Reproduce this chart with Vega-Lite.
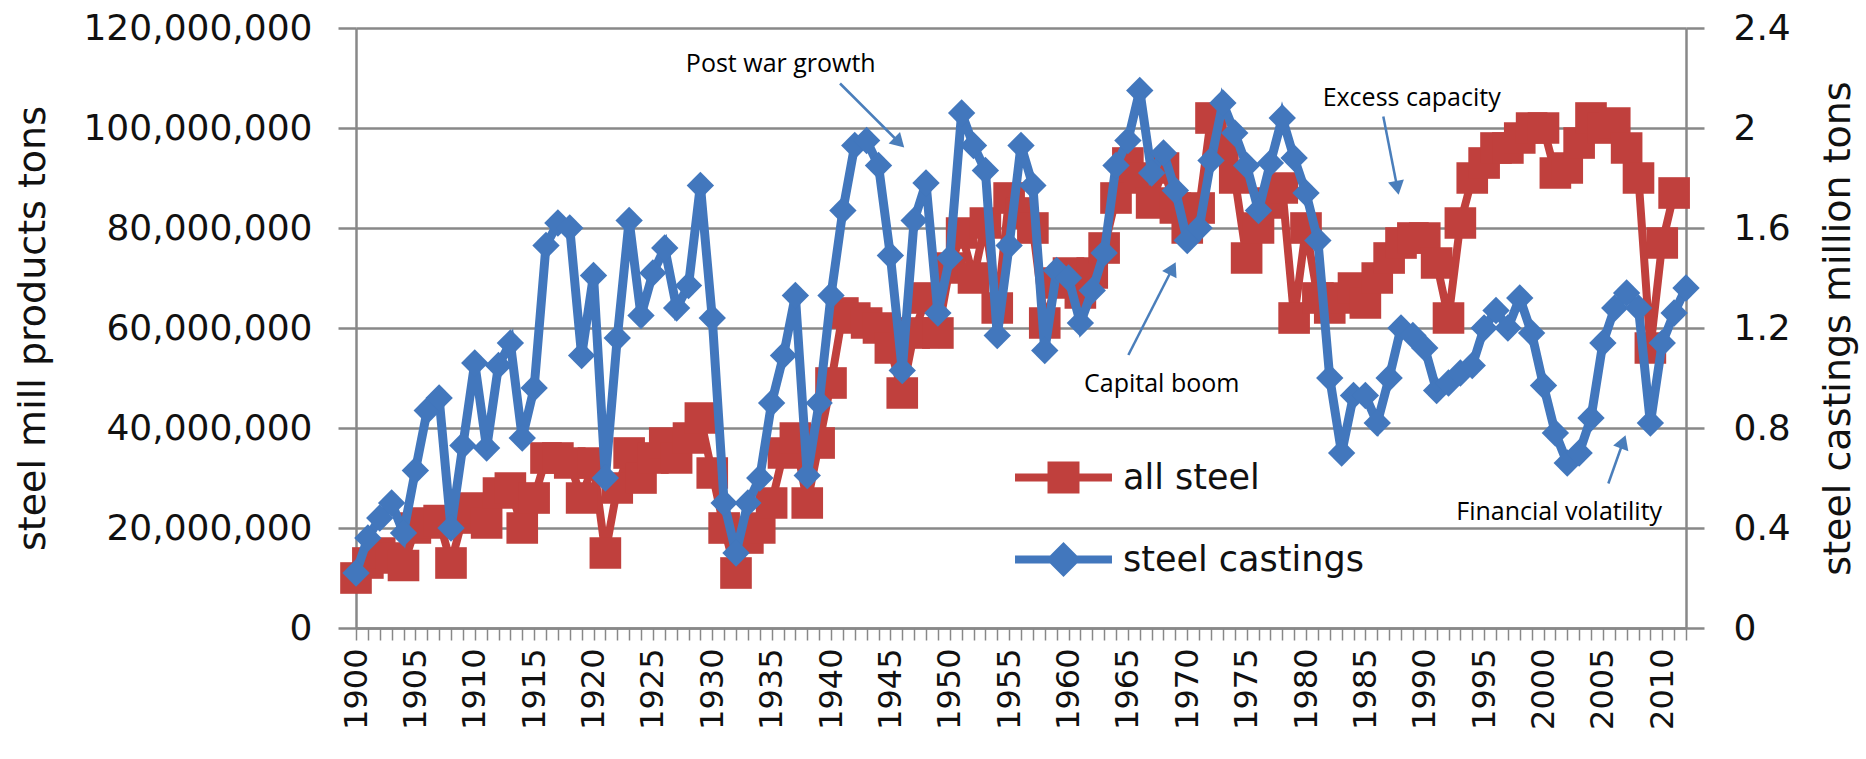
{
  "$schema": "https://vega.github.io/schema/vega-lite/v6.json",
  "width": 1330,
  "height": 600,
  "autosize": {"type": "none"},
  "padding": {"left": 356, "top": 28, "right": 180, "bottom": 131},
  "background": "white",
  "config": {"view": {"stroke": null}, "font": "DejaVu Sans"},
  "datasets": {
    "allsteel": [
      {"year":1900,"tons":10000000},{"year":1901,"tons":13000000},{"year":1902,"tons":15000000},{"year":1903,"tons":14000000},{"year":1904,"tons":12500000},
      {"year":1905,"tons":20000000},{"year":1906,"tons":21000000},{"year":1907,"tons":21500000},{"year":1908,"tons":13000000},{"year":1909,"tons":22000000},
      {"year":1910,"tons":24000000},{"year":1911,"tons":21000000},{"year":1912,"tons":27000000},{"year":1913,"tons":28000000},{"year":1914,"tons":20000000},
      {"year":1915,"tons":26000000},{"year":1916,"tons":34000000},{"year":1917,"tons":34000000},{"year":1918,"tons":33000000},{"year":1919,"tons":26000000},
      {"year":1920,"tons":33000000},{"year":1921,"tons":15000000},{"year":1922,"tons":28000000},{"year":1923,"tons":35000000},{"year":1924,"tons":30000000},
      {"year":1925,"tons":34000000},{"year":1926,"tons":37000000},{"year":1927,"tons":34000000},{"year":1928,"tons":38000000},{"year":1929,"tons":42000000},
      {"year":1930,"tons":31000000},{"year":1931,"tons":20000000},{"year":1932,"tons":11000000},{"year":1933,"tons":18000000},{"year":1934,"tons":20000000},
      {"year":1935,"tons":25000000},{"year":1936,"tons":35000000},{"year":1937,"tons":38000000},{"year":1938,"tons":25000000},{"year":1939,"tons":37000000},
      {"year":1940,"tons":49000000},{"year":1941,"tons":63000000},{"year":1942,"tons":62000000},{"year":1943,"tons":61000000},{"year":1944,"tons":60000000},
      {"year":1945,"tons":56000000},{"year":1946,"tons":47000000},{"year":1947,"tons":59000000},{"year":1948,"tons":66000000},{"year":1949,"tons":59000000},
      {"year":1950,"tons":72000000},{"year":1951,"tons":79000000},{"year":1952,"tons":70000000},{"year":1953,"tons":81000000},{"year":1954,"tons":64000000},
      {"year":1955,"tons":86000000},{"year":1956,"tons":83000000},{"year":1957,"tons":80000000},{"year":1958,"tons":61000000},{"year":1959,"tons":69000000},
      {"year":1960,"tons":71000000},{"year":1961,"tons":67000000},{"year":1962,"tons":71000000},{"year":1963,"tons":76000000},{"year":1964,"tons":86000000},
      {"year":1965,"tons":93000000},{"year":1966,"tons":90000000},{"year":1967,"tons":85000000},{"year":1968,"tons":92000000},{"year":1969,"tons":84000000},
      {"year":1970,"tons":80000000},{"year":1971,"tons":84000000},{"year":1972,"tons":102000000},{"year":1973,"tons":96000000},{"year":1974,"tons":90000000},
      {"year":1975,"tons":74000000},{"year":1976,"tons":80000000},{"year":1977,"tons":85000000},{"year":1978,"tons":88000000},{"year":1979,"tons":62000000},
      {"year":1980,"tons":80000000},{"year":1981,"tons":66000000},{"year":1982,"tons":64000000},{"year":1983,"tons":66000000},{"year":1984,"tons":68000000},
      {"year":1985,"tons":65000000},{"year":1986,"tons":70000000},{"year":1987,"tons":74000000},{"year":1988,"tons":77000000},{"year":1989,"tons":78000000},
      {"year":1990,"tons":78000000},{"year":1991,"tons":73000000},{"year":1992,"tons":62000000},{"year":1993,"tons":81000000},{"year":1994,"tons":90000000},
      {"year":1995,"tons":93000000},{"year":1996,"tons":96000000},{"year":1997,"tons":96000000},{"year":1998,"tons":98000000},{"year":1999,"tons":100000000},
      {"year":2000,"tons":100000000},{"year":2001,"tons":91000000},{"year":2002,"tons":92000000},{"year":2003,"tons":97000000},{"year":2004,"tons":102000000},
      {"year":2005,"tons":100000000},{"year":2006,"tons":101000000},{"year":2007,"tons":96000000},{"year":2008,"tons":90000000},{"year":2009,"tons":56000000},
      {"year":2010,"tons":77000000},{"year":2011,"tons":87000000}
    ],
    "castings": [
      {"year":1900,"mt":0.22},{"year":1901,"mt":0.36},{"year":1902,"mt":0.44},{"year":1903,"mt":0.50},{"year":1904,"mt":0.38},
      {"year":1905,"mt":0.63},{"year":1906,"mt":0.87},{"year":1907,"mt":0.92},{"year":1908,"mt":0.40},{"year":1909,"mt":0.73},
      {"year":1910,"mt":1.06},{"year":1911,"mt":0.72},{"year":1912,"mt":1.05},{"year":1913,"mt":1.14},{"year":1914,"mt":0.76},
      {"year":1915,"mt":0.96},{"year":1916,"mt":1.53},{"year":1917,"mt":1.62},{"year":1918,"mt":1.60},{"year":1919,"mt":1.09},
      {"year":1920,"mt":1.41},{"year":1921,"mt":0.60},{"year":1922,"mt":1.16},{"year":1923,"mt":1.63},{"year":1924,"mt":1.25},
      {"year":1925,"mt":1.42},{"year":1926,"mt":1.52},{"year":1927,"mt":1.28},{"year":1928,"mt":1.37},{"year":1929,"mt":1.77},
      {"year":1930,"mt":1.24},{"year":1931,"mt":0.50},{"year":1932,"mt":0.30},{"year":1933,"mt":0.50},{"year":1934,"mt":0.60},
      {"year":1935,"mt":0.90},{"year":1936,"mt":1.09},{"year":1937,"mt":1.33},{"year":1938,"mt":0.61},{"year":1939,"mt":0.90},
      {"year":1940,"mt":1.33},{"year":1941,"mt":1.67},{"year":1942,"mt":1.93},{"year":1943,"mt":1.95},{"year":1944,"mt":1.85},
      {"year":1945,"mt":1.49},{"year":1946,"mt":1.03},{"year":1947,"mt":1.63},{"year":1948,"mt":1.78},{"year":1949,"mt":1.26},
      {"year":1950,"mt":1.48},{"year":1951,"mt":2.06},{"year":1952,"mt":1.93},{"year":1953,"mt":1.83},{"year":1954,"mt":1.17},
      {"year":1955,"mt":1.53},{"year":1956,"mt":1.93},{"year":1957,"mt":1.77},{"year":1958,"mt":1.11},{"year":1959,"mt":1.43},
      {"year":1960,"mt":1.40},{"year":1961,"mt":1.22},{"year":1962,"mt":1.35},{"year":1963,"mt":1.50},{"year":1964,"mt":1.85},
      {"year":1965,"mt":1.95},{"year":1966,"mt":2.15},{"year":1967,"mt":1.82},{"year":1968,"mt":1.90},{"year":1969,"mt":1.75},
      {"year":1970,"mt":1.55},{"year":1971,"mt":1.60},{"year":1972,"mt":1.87},{"year":1973,"mt":2.10},{"year":1974,"mt":1.98},
      {"year":1975,"mt":1.85},{"year":1976,"mt":1.67},{"year":1977,"mt":1.86},{"year":1978,"mt":2.04},{"year":1979,"mt":1.88},
      {"year":1980,"mt":1.74},{"year":1981,"mt":1.55},{"year":1982,"mt":1.00},{"year":1983,"mt":0.70},{"year":1984,"mt":0.93},
      {"year":1985,"mt":0.93},{"year":1986,"mt":0.82},{"year":1987,"mt":1.00},{"year":1988,"mt":1.20},{"year":1989,"mt":1.17},
      {"year":1990,"mt":1.12},{"year":1991,"mt":0.95},{"year":1992,"mt":0.98},{"year":1993,"mt":1.02},{"year":1994,"mt":1.05},
      {"year":1995,"mt":1.20},{"year":1996,"mt":1.27},{"year":1997,"mt":1.20},{"year":1998,"mt":1.32},{"year":1999,"mt":1.18},
      {"year":2000,"mt":0.97},{"year":2001,"mt":0.78},{"year":2002,"mt":0.66},{"year":2003,"mt":0.70},{"year":2004,"mt":0.84},
      {"year":2005,"mt":1.14},{"year":2006,"mt":1.28},{"year":2007,"mt":1.34},{"year":2008,"mt":1.28},{"year":2009,"mt":0.82},
      {"year":2010,"mt":1.14},{"year":2011,"mt":1.26},{"year":2012,"mt":1.36}
    ],
    "notes": [
      {"label":"Post war growth","year":1935.77,"tons":112900000},
      {"label":"Excess capacity","year":1988.9,"tons":106100000},
      {"label":"Capital boom","year":1967.85,"tons":48900000},
      {"label":"Financial volatility","year":2001.32,"tons":23300000}
    ],
    "arrows": [
      {"year":1940.76,"tons":108900000,"year2":1945.61,"tons2":97400000},
      {"year":1986.51,"tons":102300000,"year2":1987.65,"tons2":88500000},
      {"year":1965.04,"tons":54600000,"year2":1968.67,"tons2":71500000},
      {"year":2005.46,"tons":28900000,"year2":2006.64,"tons2":36800000}
    ],
    "heads": [
      {"year":1945.61,"tons":97400000},
      {"year":1987.65,"tons":88500000},
      {"year":1968.67,"tons":71500000},
      {"year":2006.64,"tons":36800000}
    ]
  },
  "layer": [
    {
      "data": {"name": "allsteel"},
      "mark": {"type": "line", "color": "#C0403D", "strokeWidth": 8},
      "encoding": {
        "x": {
          "field": "year", "type": "quantitative",
          "scale": {"domain": [1900, 2012], "nice": false, "zero": false},
          "axis": {
            "values": [1900,1901,1902,1903,1904,1905,1906,1907,1908,1909,1910,1911,1912,1913,1914,1915,1916,1917,1918,1919,1920,1921,1922,1923,1924,1925,1926,1927,1928,1929,1930,1931,1932,1933,1934,1935,1936,1937,1938,1939,1940,1941,1942,1943,1944,1945,1946,1947,1948,1949,1950,1951,1952,1953,1954,1955,1956,1957,1958,1959,1960,1961,1962,1963,1964,1965,1966,1967,1968,1969,1970,1971,1972,1973,1974,1975,1976,1977,1978,1979,1980,1981,1982,1983,1984,1985,1986,1987,1988,1989,1990,1991,1992,1993,1994,1995,1996,1997,1998,1999,2000,2001,2002,2003,2004,2005,2006,2007,2008,2009,2010,2011,2012],
            "tickCount": 300,
            "labelExpr": "datum.value % 5 === 0 ? toString(datum.value) : ''",
            "labelAngle": 270,
            "labelFontSize": 32,
            "labelColor": "#111111",
            "labelPadding": 8,
            "labelOverlap": false,
            "labelFlush": false,
            "labelBound": false,
            "tickSize": 12,
            "tickColor": "#888888",
            "tickWidth": 1.5,
            "domainColor": "#888888",
            "domainWidth": 2.5,
            "grid": false,
            "title": null
          }
        },
        "y": {
          "field": "tons", "type": "quantitative",
          "scale": {"domain": [0, 120000000], "nice": false},
          "axis": {
            "values": [0, 20000000, 40000000, 60000000, 80000000, 100000000, 120000000],
            "labelExpr": "format(datum.value, ',')",
            "labelFontSize": 36,
            "labelLimit": 500,
            "labelColor": "#111111",
            "labelPadding": 26,
            "tickSize": 18,
            "tickColor": "#888888",
            "tickWidth": 2.5,
            "domainColor": "#888888",
            "domainWidth": 2.5,
            "grid": true,
            "gridColor": "#888888",
            "gridWidth": 2.5,
            "title": "steel mill products tons",
            "titleFontSize": 38,
            "titleFontWeight": "normal",
            "titleColor": "#111111",
            "titleX": -304,
            "titleY": 300,
            "titleAngle": 270,
            "titleAlign": "center",
            "titleBaseline": "bottom"
          }
        }
      }
    },
    {
      "data": {"name": "allsteel"},
      "mark": {"type": "point", "shape": "square", "filled": true, "size": 1000, "opacity": 1},
      "encoding": {
        "x": {"field": "year", "type": "quantitative"},
        "y": {"field": "tons", "type": "quantitative", "scale": {"domain": [0, 120000000], "nice": false}, "axis": null},
        "color": {
          "datum": "all steel",
          "scale": {"range": ["#C0403D"]},
          "legend": {
            "orient": "none", "legendX": 659, "legendY": 401,
            "symbolType": "M-1,-0.08H1V0.08H-1ZM-0.33,-0.33H0.33V0.33H-0.33Z",
            "symbolSize": 9400, "symbolStrokeWidth": 0,
            "labelFontSize": 35, "labelColor": "#111111", "labelOffset": 11, "labelLimit": 0,
            "title": null, "padding": 0
          }
        }
      }
    },
    {
      "data": {"name": "arrows"},
      "mark": {"type": "rule", "color": "#4A7EBB", "strokeWidth": 2.5},
      "encoding": {
        "x": {"field": "year", "type": "quantitative"},
        "x2": {"field": "year2"},
        "y": {"field": "tons", "type": "quantitative", "scale": {"domain": [0, 120000000], "nice": false}, "axis": null},
        "y2": {"field": "tons2"}
      }
    },
    {
      "data": {"name": "heads"},
      "transform": [{"filter": "datum.year < 1950"}],
      "mark": {"type": "point", "shape": "triangle", "filled": true, "size": 260, "color": "#4A7EBB", "opacity": 1, "angle": 135},
      "encoding": {"x": {"field": "year", "type": "quantitative"}, "y": {"field": "tons", "type": "quantitative", "scale": {"domain": [0, 120000000], "nice": false}, "axis": null}}
    },
    {
      "data": {"name": "heads"},
      "transform": [{"filter": "datum.year > 1980 && datum.year < 2000"}],
      "mark": {"type": "point", "shape": "triangle", "filled": true, "size": 260, "color": "#4A7EBB", "opacity": 1, "angle": 169},
      "encoding": {"x": {"field": "year", "type": "quantitative"}, "y": {"field": "tons", "type": "quantitative", "scale": {"domain": [0, 120000000], "nice": false}, "axis": null}}
    },
    {
      "data": {"name": "heads"},
      "transform": [{"filter": "datum.year > 1960 && datum.year < 1980"}],
      "mark": {"type": "point", "shape": "triangle", "filled": true, "size": 260, "color": "#4A7EBB", "opacity": 1, "angle": 27},
      "encoding": {"x": {"field": "year", "type": "quantitative"}, "y": {"field": "tons", "type": "quantitative", "scale": {"domain": [0, 120000000], "nice": false}, "axis": null}}
    },
    {
      "data": {"name": "heads"},
      "transform": [{"filter": "datum.year > 2000"}],
      "mark": {"type": "point", "shape": "triangle", "filled": true, "size": 260, "color": "#4A7EBB", "opacity": 1, "angle": 20},
      "encoding": {"x": {"field": "year", "type": "quantitative"}, "y": {"field": "tons", "type": "quantitative", "scale": {"domain": [0, 120000000], "nice": false}, "axis": null}}
    },
    {
      "data": {"name": "notes"},
      "mark": {"type": "text", "font": "Open Sans", "fontSize": 25, "color": "#000000", "align": "center", "baseline": "middle"},
      "encoding": {
        "x": {"field": "year", "type": "quantitative"},
        "y": {"field": "tons", "type": "quantitative", "scale": {"domain": [0, 120000000], "nice": false}, "axis": null},
        "text": {"field": "label"}
      }
    },
    {
      "data": {"name": "castings"},
      "mark": {"type": "line", "color": "#4277BD", "strokeWidth": 9},
      "encoding": {
        "x": {"field": "year", "type": "quantitative"},
        "y": {
          "field": "mt", "type": "quantitative",
          "scale": {"domain": [0, 2.4], "nice": false},
          "axis": {
            "orient": "right",
            "values": [0, 0.4, 0.8, 1.2, 1.6, 2, 2.4],
            "labelExpr": "format(datum.value, '.1~f')",
            "labelFontSize": 36,
            "labelColor": "#111111",
            "labelPadding": 29,
            "tickSize": 18,
            "tickColor": "#888888",
            "tickWidth": 2.5,
            "domainColor": "#888888",
            "domainWidth": 2.5,
            "grid": false,
            "title": "steel castings million tons",
            "titleFontSize": 38,
            "titleFontWeight": "normal",
            "titleColor": "#111111",
            "titleAngle": 270,
            "titleBaseline": "top",
            "titlePadding": 29
          }
        }
      }
    },
    {
      "data": {"name": "castings"},
      "mark": {"type": "point", "shape": "diamond", "filled": true, "size": 750, "opacity": 1},
      "encoding": {
        "x": {"field": "year", "type": "quantitative"},
        "y": {"field": "mt", "type": "quantitative", "scale": {"domain": [0, 2.4], "nice": false}, "axis": null},
        "fill": {
          "datum": "steel castings",
          "scale": {"range": ["#4277BD"]},
          "legend": {
            "orient": "none", "legendX": 659, "legendY": 483,
            "symbolType": "M-1,-0.08H1V0.08H-1ZM0,-0.36L0.36,0L0,0.36L-0.36,0Z",
            "symbolSize": 9400, "symbolStrokeWidth": 0,
            "labelFontSize": 35, "labelColor": "#111111", "labelOffset": 11, "labelLimit": 0,
            "title": null, "padding": 0
          }
        }
      }
    }
  ],
  "resolve": {"scale": {"y": "independent"}}
}
